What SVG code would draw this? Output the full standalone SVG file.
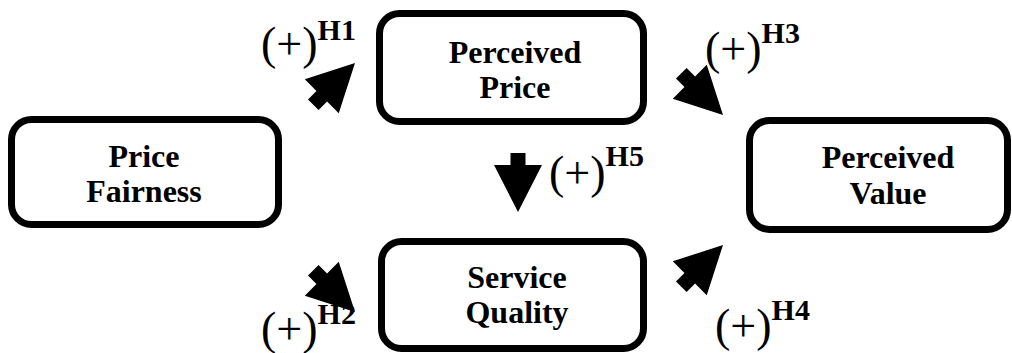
<svg xmlns="http://www.w3.org/2000/svg" width="1012" height="353" viewBox="0 0 1012 353">
<style>
.box{fill:#fff;stroke:#000;stroke-width:7}
.t{font-family:"Liberation Serif","Times New Roman",serif;font-weight:bold;font-size:32px;text-anchor:middle;fill:#000}
.lab{font-family:"Liberation Serif","Times New Roman",serif;font-size:46px;fill:#000}
.sup{font-weight:bold;font-size:30px}
.arr{fill:#000}
</style>
<defs>
<path id="blk" d="M-7.5,-59 L7.5,-59 L7.5,-47 L24,-47 L0,0 L-24,-47 L-7.5,-47 Z"/>
</defs>
<rect width="1012" height="353" fill="#fff"/>
<g id="node-price-fairness">
<rect class="box" x="11.5" y="119.5" width="267" height="105" rx="20"/>
<text class="t" x="144" y="167">Price</text>
<text class="t" x="144" y="202">Fairness</text>
</g>
<g id="node-perceived-price">
<rect class="box" x="379.5" y="13.5" width="264" height="108" rx="20"/>
<text class="t" x="515" y="63">Perceived</text>
<text class="t" x="515" y="98">Price</text>
</g>
<g id="node-service-quality">
<rect class="box" x="381.5" y="241.5" width="262" height="107" rx="20"/>
<text class="t" x="517" y="288">Service</text>
<text class="t" x="517" y="323">Quality</text>
</g>
<g id="node-perceived-value">
<rect class="box" x="749.5" y="120.5" width="258" height="109" rx="20"/>
<text class="t" x="888" y="168">Perceived</text>
<text class="t" x="888" y="204">Value</text>
</g>
<g id="connectors">
<use href="#blk" class="arr" transform="translate(355,63) rotate(-135)"/>
<use href="#blk" class="arr" transform="translate(355,312) rotate(-45)"/>
<use href="#blk" class="arr" transform="translate(723,115) rotate(-45)"/>
<use href="#blk" class="arr" transform="translate(723,245) rotate(-135)"/>
<use href="#blk" class="arr" transform="translate(518,212)"/>
</g>
<g id="labels">
<text class="lab" x="261" y="59">(+)<tspan class="sup" dy="-19">H1</tspan></text>
<text class="lab" x="261" y="344">(+)<tspan class="sup" dy="-20">H2</tspan></text>
<text class="lab" x="705" y="64">(+)<tspan class="sup" dy="-21">H3</tspan></text>
<text class="lab" x="715" y="341">(+)<tspan class="sup" dy="-21">H4</tspan></text>
<text class="lab" x="549" y="188">(+)<tspan class="sup" dy="-22">H5</tspan></text>
</g>
</svg>
